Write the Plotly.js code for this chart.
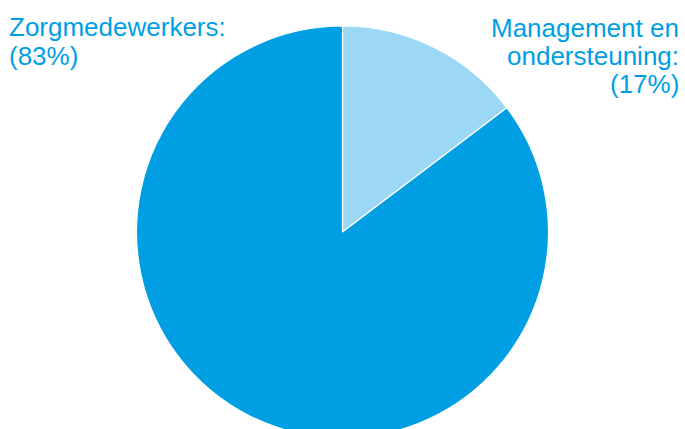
<!DOCTYPE html>
<html>
<head>
<meta charset="utf-8">
<script src="https://cdn.plot.ly/plotly-3.0.1.min.js"></script>
<style>
html,body{margin:0;padding:0;overflow:hidden;background:#fff;}
#chart{width:685px;height:450px;}
</style>
</head>
<body>
<div id="chart"></div>
<script>
var categories = ["Management en ondersteuning", "Zorgmedewerkers"];
var shares = [14.7, 85.3];
var rightLabelLines = ["Management en", "ondersteuning:", "(17%)"];
var leftLabelLines = ["Zorgmedewerkers:", "(83%)"];
var colors = ["#9dd7f6", "#009fe3"];

var trace = {
  type: "pie",
  labels: categories,
  values: shares,
  sort: false,
  direction: "clockwise",
  rotation: 0,
  textinfo: "none",
  hoverinfo: "skip",
  marker: {colors: colors, line: {color: "#ffffff", width: 1.2}},
  domain: {x: [0, 1], y: [12/450, 424/450]},
  showlegend: false
};

var H = 450, W = 685, FS = 26;
var annotations = [];
var leftTops = [10, 39];
leftLabelLines.forEach(function (t, i) {
  annotations.push({text: t, xref: "paper", yref: "paper", x: 7/W, y: 1 - leftTops[i]/H,
    xanchor: "left", yanchor: "top", align: "left", showarrow: false,
    font: {size: FS, color: "#009fe3"}});
});
var rightTops = [11, 39, 67];
rightLabelLines.forEach(function (t, i) {
  annotations.push({text: t, xref: "paper", yref: "paper", x: 681/W, y: 1 - rightTops[i]/H,
    xanchor: "right", yanchor: "top", align: "right", showarrow: false,
    font: {size: FS, color: "#009fe3"}});
});

var layout = {
  width: W, height: H,
  margin: {l: 0, r: 0, t: 0, b: 0},
  paper_bgcolor: "#fff",
  font: {family: "Liberation Sans, Arial, sans-serif", color: "#009fe3"},
  annotations: annotations
};

Plotly.newPlot("chart", [trace], layout, {staticPlot: true, displayModeBar: false});
</script>
</body>
</html>
